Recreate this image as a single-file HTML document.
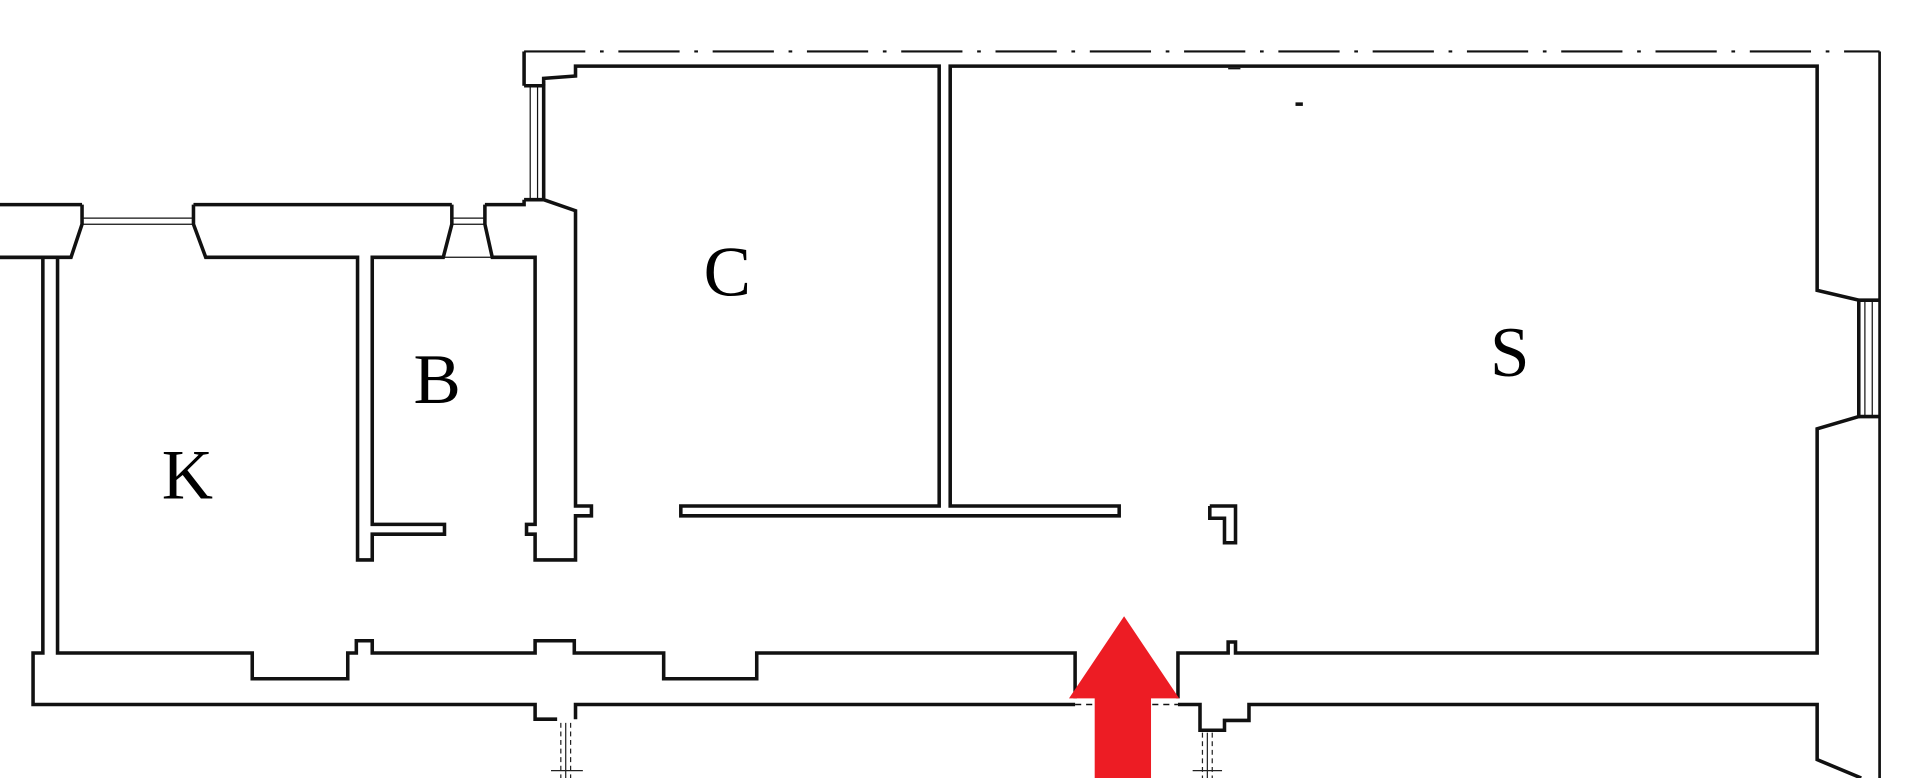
<!DOCTYPE html>
<html><head><meta charset="utf-8"><style>
html,body{margin:0;padding:0;background:#fff;}
svg{display:block;}
text{font-family:"Liberation Serif",serif;fill:#000;}
</style></head><body>
<svg width="1920" height="778" viewBox="0 0 1568 635" preserveAspectRatio="none">
<g fill="none" stroke="#111" stroke-width="2.9" stroke-linejoin="miter">
<line x1="428" y1="42" x2="1535" y2="42" stroke-width="1.8" stroke-dasharray="50,12,3,12"/>
<line x1="1535" y1="42" x2="1535" y2="635" stroke-width="2.2"/>
<polyline points="0,167 67,167"/>
<polyline points="158,167 369,167"/>
<polyline points="396,167 428,167 428,163"/>
<polyline points="428,70 428,42"/>
<polyline points="67,167 67,183 58,210 0,210"/>
<polyline points="158,167 158,183 168,210 292,210 292,457 304,457 304,436 363,436 363,428 304,428 304,210 362,210 369,183 369,167"/>
<line x1="67" y1="178" x2="158" y2="178" stroke-width="1"/>
<line x1="67" y1="183" x2="158" y2="183" stroke-width="1"/>
<polyline points="396,167 396,183 402,210 437,210 437,428 430,428 430,436 437,436 437,457 470,457 470,421 483,421 483,413 470,413 470,172 444,163"/>
<line x1="369" y1="178" x2="396" y2="178" stroke-width="1"/>
<line x1="369" y1="183" x2="396" y2="183" stroke-width="1"/>
<line x1="362" y1="210" x2="402" y2="210" stroke-width="1"/>
<polyline points="428,163 444,163 444,70 428,70"/>
<line x1="433" y1="70" x2="433" y2="163" stroke-width="1"/>
<line x1="439" y1="70" x2="439" y2="163" stroke-width="1"/>
<polyline points="444,70 444,64 470,62 470,54 767,54 767,413 556,413 556,421 914,421 914,413 776,413 776,54 1484,54 1484,237 1518,245 1518,340 1484,350 1484,533 1009,533 1009,524 1003,524 1003,533 962,533 962,570"/>
<line x1="1518" y1="245" x2="1535" y2="245"/>
<line x1="1518" y1="340" x2="1535" y2="340"/>
<line x1="1523" y1="245" x2="1523" y2="340" stroke-width="1"/>
<line x1="1529" y1="245" x2="1529" y2="340" stroke-width="1"/>
<polyline points="0,210 35,210 35,533 27,533 27,575 437,575 437,587 455,587"/>
<polyline points="47,210 47,533 206,533 206,554 284,554 284,533 291,533 291,523 304,523 304,533 437,533 437,523 469,523 469,533 542,533 542,554 618,554 618,533 878,533 878,570"/>
<polyline points="470,587 470,575 878,575"/>
<line x1="878" y1="575" x2="962" y2="575" stroke-width="1.2" stroke-dasharray="5,4"/>
<polyline points="962,575 980,575 980,596 1000,596 1000,588 1020,588 1020,575 1484,575 1484,620 1520,635"/>
<polyline points="988,413 1009,413 1009,443 1000,443 1000,423 988,423 988,413"/>
<line x1="1058" y1="85" x2="1064" y2="85"/>
<line x1="1003" y1="56" x2="1013" y2="56" stroke-width="1.2"/>
</g>
<g stroke="#222" stroke-width="1" fill="none">
<line x1="458" y1="590" x2="458" y2="635" stroke-dasharray="4,3"/>
<line x1="462" y1="590" x2="462" y2="635"/>
<line x1="466" y1="590" x2="466" y2="635" stroke-dasharray="4,3"/>
<line x1="450" y1="629" x2="476" y2="629"/>
<line x1="982" y1="598" x2="982" y2="635" stroke-dasharray="4,3"/>
<line x1="986" y1="598" x2="986" y2="635"/>
<line x1="990" y1="598" x2="990" y2="635" stroke-dasharray="4,3"/>
<line x1="974" y1="629" x2="998" y2="629"/>
</g>
<polygon points="918,503 963,570 940,570 940,635 894,635 894,570 873,570" fill="#ed1c24"/>
<text x="594" y="241" font-size="58" text-anchor="middle">C</text>
<text x="1233" y="307" font-size="58" text-anchor="middle">S</text>
<text x="357" y="329" font-size="58" text-anchor="middle">B</text>
<text x="153" y="407" font-size="58" text-anchor="middle">K</text>
</svg>
</body></html>
